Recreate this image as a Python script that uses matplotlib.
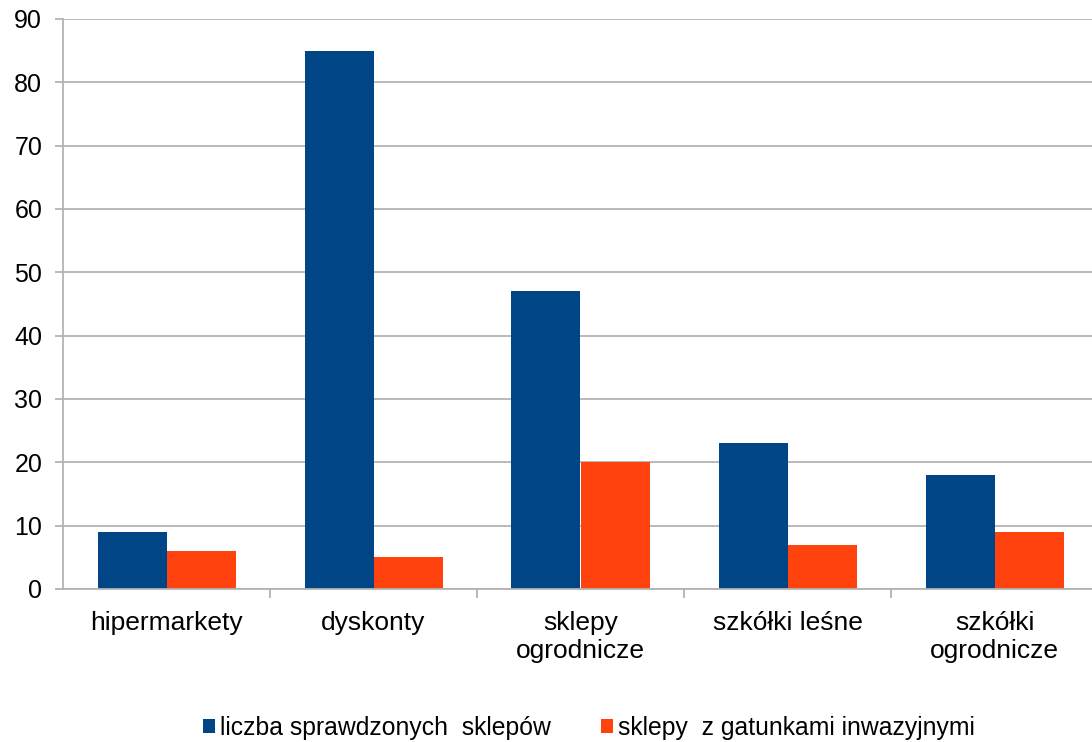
import matplotlib.pyplot as plt
import numpy as np

plt.rcParams['font.family'] = ['Liberation Sans', 'DejaVu Sans']

kategorie = ["hipermarkety", "dyskonty", "sklepy\nogrodnicze", "szkółki leśne", "szkółki\nogrodnicze"]
sprawdzone = [9, 85, 47, 23, 18]
inwazyjne = [6, 5, 20, 7, 9]
etykiety_serii = ["liczba sprawdzonych  sklepów", "sklepy  z gatunkami inwazyjnymi"]

niebieski = "#004586"
pomaranczowy = "#ff420e"
siatka = "#b3b3b3"

fig = plt.figure(figsize=(10.92, 7.42), dpi=100)
ax = fig.add_axes([63 / 1092, 1 - 589 / 742, 1035 / 1092, 570 / 742])

x = np.arange(len(kategorie))
szer = 1 / 3
ax.bar(x - szer / 2, sprawdzone, szer, color=niebieski, linewidth=0, label=etykiety_serii[0])
ax.bar(x + szer / 2, inwazyjne, szer, color=pomaranczowy, linewidth=0, label=etykiety_serii[1])

ax.set_xlim(-0.5, len(kategorie) - 0.5)
ax.set_ylim(0, 90)
ax.set_yticks(range(0, 91, 10))
ax.yaxis.grid(True, color=siatka, linewidth=1.3)
ax.set_axisbelow(True)

for s in ["top", "right"]:
    ax.spines[s].set_visible(False)
for s in ["left", "bottom"]:
    ax.spines[s].set_color(siatka)
    ax.spines[s].set_linewidth(1.3)

ax.tick_params(axis="y", length=6, color=siatka, width=1.3, labelsize=18, pad=9)
ax.set_xticks(x)
ax.set_xticklabels(kategorie, fontsize=19, linespacing=1.22)
ax.set_xticks(np.arange(0.5, len(kategorie) - 0.5), minor=True)
ax.tick_params(axis="x", which="major", length=0, pad=16)
ax.tick_params(axis="x", which="minor", length=6.5, color=siatka, width=1.3)

fig.legend(loc="center", bbox_to_anchor=(589 / 1092, 1 - 728 / 742), ncol=2,
           frameon=False, fontsize=17.8, handlelength=0.5, handleheight=0.5,
           handletextpad=0.2, columnspacing=2.0)

fig.savefig("out.png", dpi=100)
